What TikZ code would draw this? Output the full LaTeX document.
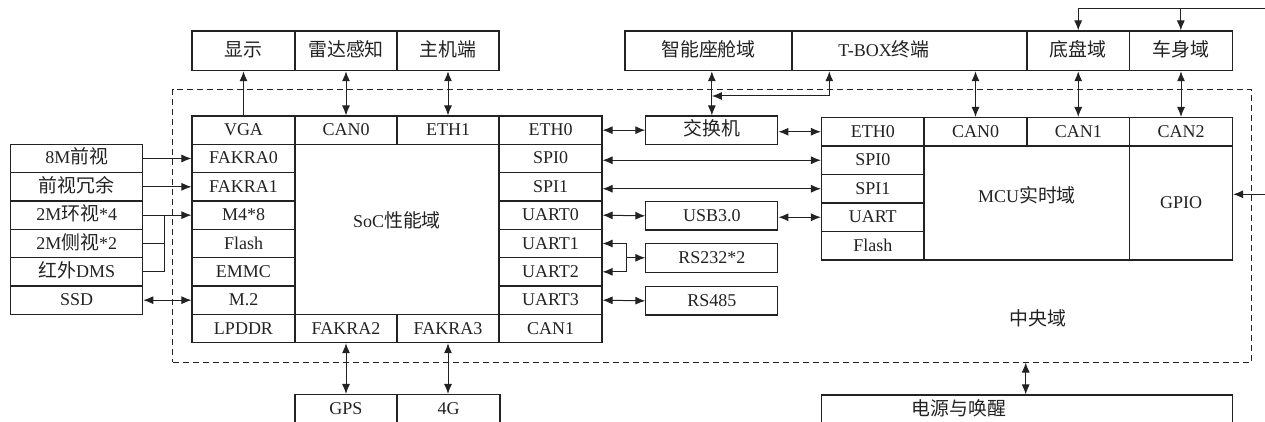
\documentclass[tikz,border=0pt]{standalone}
\usepackage{fontspec}
\setmainfont{Liberation Serif}
\newfontfamily\cjkfont[Scale=1.05]{Noto Sans CJK SC}
\newcommand{\zhs}[1]{{\cjkfont #1}}
\usetikzlibrary{arrows.meta}
\definecolor{ink}{HTML}{222222}
\begin{document}
\begin{tikzpicture}[x=1pt,y=-1pt,
  every node/.style={font=\fontsize{18}{20}\selectfont, text=ink},
  txt/.style={inner sep=0pt, text height=14pt, text depth=3pt},
  cell/.style={txt, draw=ink, line width=1.1pt, rectangle, minimum height=28.33pt},
  topbox/.style={cell, minimum height=39.7pt},
  wire/.style={draw=ink, line width=1pt},
  arr/.style={wire, -{Latex[length=10pt,width=8pt]}},
  dbl/.style={wire, {Latex[length=10pt,width=8pt]}-{Latex[length=10pt,width=8pt]}},
  region/.style={draw=ink, line width=1pt, dash pattern=on 6pt off 4pt, inner sep=0pt}]
\useasboundingbox (0,0) rectangle (1265,422);
\clip (0,0) rectangle (1265,422);

% central domain (dashed)
\node[region, minimum width=1078.8pt, minimum height=272.5pt] (central) at (712.1,225.75) {};
\node[txt] (centraltxt) at (1038,320) {\zhs{中央域}};

% top boxes
\node[topbox, minimum width=103pt] (disp) at (243.5,50.85) {\zhs{显示}};
\node[topbox, minimum width=102pt] (radar) at (346,50.85) {\zhs{雷达感知}};
\node[topbox, minimum width=102pt] (host) at (448,50.85) {\zhs{主机端}};
\node[topbox, minimum width=167pt] (cockpit) at (708.5,50.85) {\zhs{智能座舱域}};
\node[topbox, minimum width=235pt] (tbox) at (909.5,50.85) {};
\node[txt] (tboxtxt) at (884,50.85) {T-BOX\zhs{终端}};
\node[topbox, minimum width=102.3pt] (chassis) at (1078.2,50.85) {\zhs{底盘域}};
\node[topbox, minimum width=103pt] (body) at (1180.8,50.85) {\zhs{车身域}};

% SoC grid
\node[cell, minimum width=103pt] (vga) at (243.5,130.17) {VGA};
\node[cell, minimum width=102pt] (scan0) at (346,130.17) {CAN0};
\node[cell, minimum width=102pt] (eth1) at (448,130.17) {ETH1};
\node[cell, minimum width=103pt] (seth0) at (550.5,130.17) {ETH0};
\node[cell, minimum width=103pt] (fk0) at (243.5,158.5) {FAKRA0};
\node[cell, minimum width=103pt] (fk1) at (243.5,186.83) {FAKRA1};
\node[cell, minimum width=103pt] (m48) at (243.5,215.17) {M4*8};
\node[cell, minimum width=103pt] (sflash) at (243.5,243.5) {Flash};
\node[cell, minimum width=103pt] (emmc) at (243.5,271.83) {EMMC};
\node[cell, minimum width=103pt] (m2) at (243.5,300.17) {M.2};
\node[cell, minimum width=103pt] (lpddr) at (243.5,328.5) {LPDDR};
\node[cell, minimum width=102pt] (fk2) at (346,328.5) {FAKRA2};
\node[cell, minimum width=102pt] (fk3) at (448,328.5) {FAKRA3};
\node[cell, minimum width=103pt] (scan1) at (550.5,328.5) {CAN1};
\node[cell, minimum width=103pt] (spi0) at (550.5,158.5) {SPI0};
\node[cell, minimum width=103pt] (spi1) at (550.5,186.83) {SPI1};
\node[cell, minimum width=103pt] (uart0) at (550.5,215.17) {UART0};
\node[cell, minimum width=103pt] (uart1) at (550.5,243.5) {UART1};
\node[cell, minimum width=103pt] (uart2) at (550.5,271.83) {UART2};
\node[cell, minimum width=103pt] (uart3) at (550.5,300.17) {UART3};
\node[txt] (soc) at (397,222) {SoC\zhs{性能域}};

% left inputs
\node[cell, minimum width=132pt] (c8m) at (76.7,158.5) {8M\zhs{前视}};
\node[cell, minimum width=132pt] (fred) at (76.7,186.83) {\zhs{前视冗余}};
\node[cell, minimum width=132pt] (surr) at (76.7,215.17) {2M\zhs{环视}*4};
\node[cell, minimum width=132pt] (side) at (76.7,243.5) {2M\zhs{侧视}*2};
\node[cell, minimum width=132pt] (ir) at (76.7,271.83) {\zhs{红外}DMS};
\node[cell, minimum width=132pt] (ssd) at (76.7,300.17) {SSD};

% middle boxes
\node[cell, minimum width=132pt] (switch) at (711.85,130.17) {\zhs{交换机}};
\node[cell, minimum width=132pt] (usb) at (711.85,215.85) {USB3.0};
\node[cell, minimum width=132pt, minimum height=29pt] (rs232) at (711.85,257.8) {RS232*2};
\node[cell, minimum width=132pt] (rs485) at (711.85,300.85) {RS485};

% MCU grid
\node[cell, minimum width=102.5pt, minimum height=28.5pt] (meth0) at (872.75,131.75) {ETH0};
\node[cell, minimum width=103pt, minimum height=28.5pt] (mcan0) at (975.5,131.75) {CAN0};
\node[cell, minimum width=102.5pt, minimum height=28.5pt] (mcan1) at (1078.25,131.75) {CAN1};
\node[cell, minimum width=103pt, minimum height=28.5pt] (mcan2) at (1181,131.75) {CAN2};
\node[cell, minimum width=102.5pt, minimum height=28.5pt] (mspi0) at (872.75,160.25) {SPI0};
\node[cell, minimum width=102.5pt, minimum height=28.5pt] (mspi1) at (872.75,188.75) {SPI1};
\node[cell, minimum width=102.5pt, minimum height=28.5pt] (muart) at (872.75,217.25) {UART};
\node[cell, minimum width=102.5pt, minimum height=28.5pt] (mflash) at (872.75,245.75) {Flash};
\node[cell, minimum width=205.5pt, minimum height=114pt] (mcu) at (1026.75,203) {};
\node[txt] (mcutxt) at (1027,197) {MCU\zhs{实时域}};
\node[cell, minimum width=103pt, minimum height=114pt] (gpio) at (1181,203) {GPIO};

% bottom boxes (cut by the page edge)
\node[cell, minimum width=102pt, minimum height=29.5pt] (gps) at (346,409.25) {GPS};
\node[cell, minimum width=103pt, minimum height=29.5pt] (g4) at (448.5,409.25) {4G};
\node[cell, minimum width=410.8pt, minimum height=29pt] (power) at (1026.9,409.5) {};
\node[txt] (powertxt) at (959,410) {\zhs{电源与唤醒}};

% connectors: top
\draw[arr] (vga.north) -- (vga.north |- disp.south);
\draw[dbl] (scan0.north) -- (scan0.north |- radar.south);
\draw[dbl] (eth1.north) -- (eth1.north |- host.south);
\draw[dbl] (cockpit.south -| switch.north) -- (switch.north);
\coordinate (tb) at (829.3,96);
\draw[dbl] (tb |- tbox.south) -- (tb) -- (tb -| switch.north);
\draw[dbl] (mcan0.north |- tbox.south) -- (mcan0.north);
\draw[dbl] (mcan1.north |- chassis.south) -- (mcan1.north);
\draw[dbl] (mcan2.north |- body.south) -- (mcan2.north);
\coordinate (feed) at (1266,9);
\draw[arr] (feed) -| (chassis.north);
\draw[arr] (feed -| body.north) -- (body.north);
\coordinate (gin) at (1266,194.3);
\draw[arr] (gin) -- (gin -| gpio.east);

% connectors: bottom
\draw[dbl] (fk2.south) -- (fk2.south |- gps.north);
\draw[dbl] (fk3.south) -- (fk3.south |- g4.north);
\coordinate (px) at (1025.7,0);
\draw[dbl] (central.south -| px) -- (power.north -| px);

% connectors: middle
\draw[dbl] (seth0.east) -- (switch.west);
\draw[dbl] (switch.east |- meth0.west) -- (meth0.west);
\draw[dbl] (spi0.east |- mspi0.west) -- (mspi0.west);
\draw[dbl] (spi1.east |- mspi1.west) -- (mspi1.west);
\draw[dbl] (uart0.east) -- (usb.west);
\draw[dbl] (usb.east |- muart.west) -- (muart.west);
\coordinate (br) at (626,257.8);
\draw[arr] (br) |- (uart1.east);
\draw[arr] (br) |- (uart2.east);
\draw[arr] (br) -- (rs232.west);
\draw[dbl] (uart3.east) -- (rs485.west);

% connectors: left
\draw[arr] (c8m.east) -- (fk0.west);
\draw[arr] (fred.east) -- (fk1.west);
\draw[arr] (surr.east) -- (m48.west);
\coordinate (jx) at (164.5,0);
\draw[wire] (side.east) -- (side.east -| jx);
\draw[wire] (ir.east) -| (jx |- m48.west);
\draw[dbl] (ssd.east) -- (m2.west);
\end{tikzpicture}
\end{document}
